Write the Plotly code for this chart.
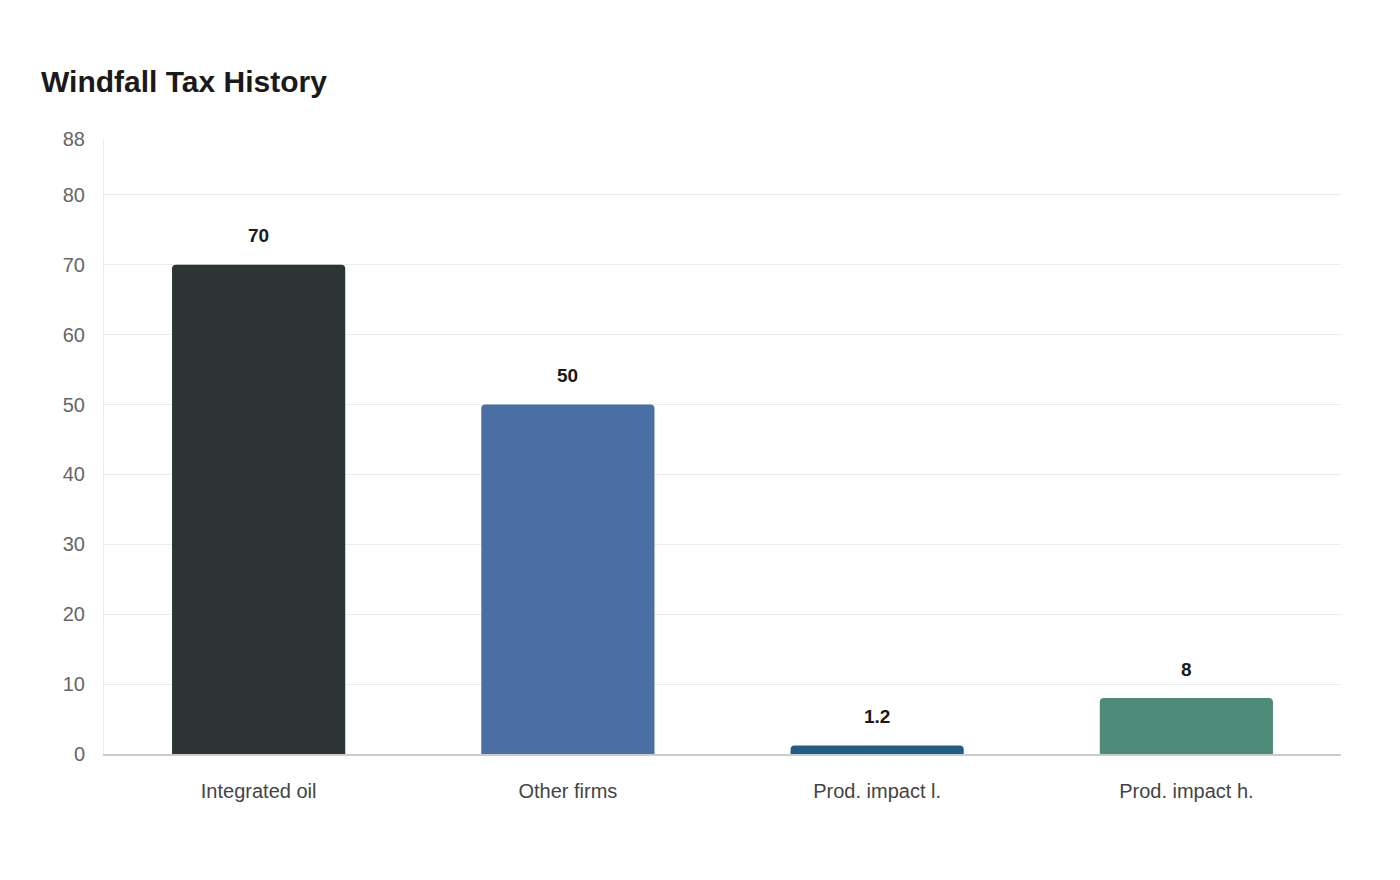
import plotly.graph_objects as go

categories = ["Integrated oil", "Other firms", "Prod. impact l.", "Prod. impact h."]
values = [70, 50, 1.2, 8]
labels = ["70", "50", "1.2", "8"]
colors = ["#2d3436", "#4a6fa5", "#1f5f84", "#4e8c79"]
tick_vals = [0, 10, 20, 30, 40, 50, 60, 70, 80, 88]

fig = go.Figure(go.Bar(x=categories, y=values, marker=dict(color=colors, cornerradius=4, line_width=0),
                       width=0.56, hoverinfo="skip"))
for c, v, t in zip(categories, values, labels):
    fig.add_annotation(x=c, y=v, text="<b>" + t + "</b>", showarrow=False, yshift=29,
                       font=dict(size=19, color="#1a1a1a", family="Liberation Sans, Arial"))
fig.update_layout(
    width=1400, height=880, paper_bgcolor="white", plot_bgcolor="white",
    margin=dict(l=96, r=67, t=131, b=134),
    title=dict(text="<b>Windfall Tax History</b>", x=33/1400, xanchor="left",
               y=1 - 73/880, yref="container", yanchor="middle",
               font=dict(size=30, color="#1a1a1a", family="Liberation Sans, Arial")),
    font=dict(family="Liberation Sans, Arial", color="#555"),
    showlegend=False,
    xaxis=dict(showgrid=False, showline=True, linecolor="#cccccc", linewidth=1.5,
               tickfont=dict(size=20, color="#444"), ticks="", ticklabelstandoff=18),
    yaxis=dict(range=[0, 88], tickvals=tick_vals, showgrid=True, gridcolor="#ebebeb",
               zeroline=False, showline=True, linecolor="#ebebeb", ticks="outside", ticklen=14,
               tickcolor="rgba(0,0,0,0)", tickfont=dict(size=20, color="#666")),
)
fig.write_html("out.html")
